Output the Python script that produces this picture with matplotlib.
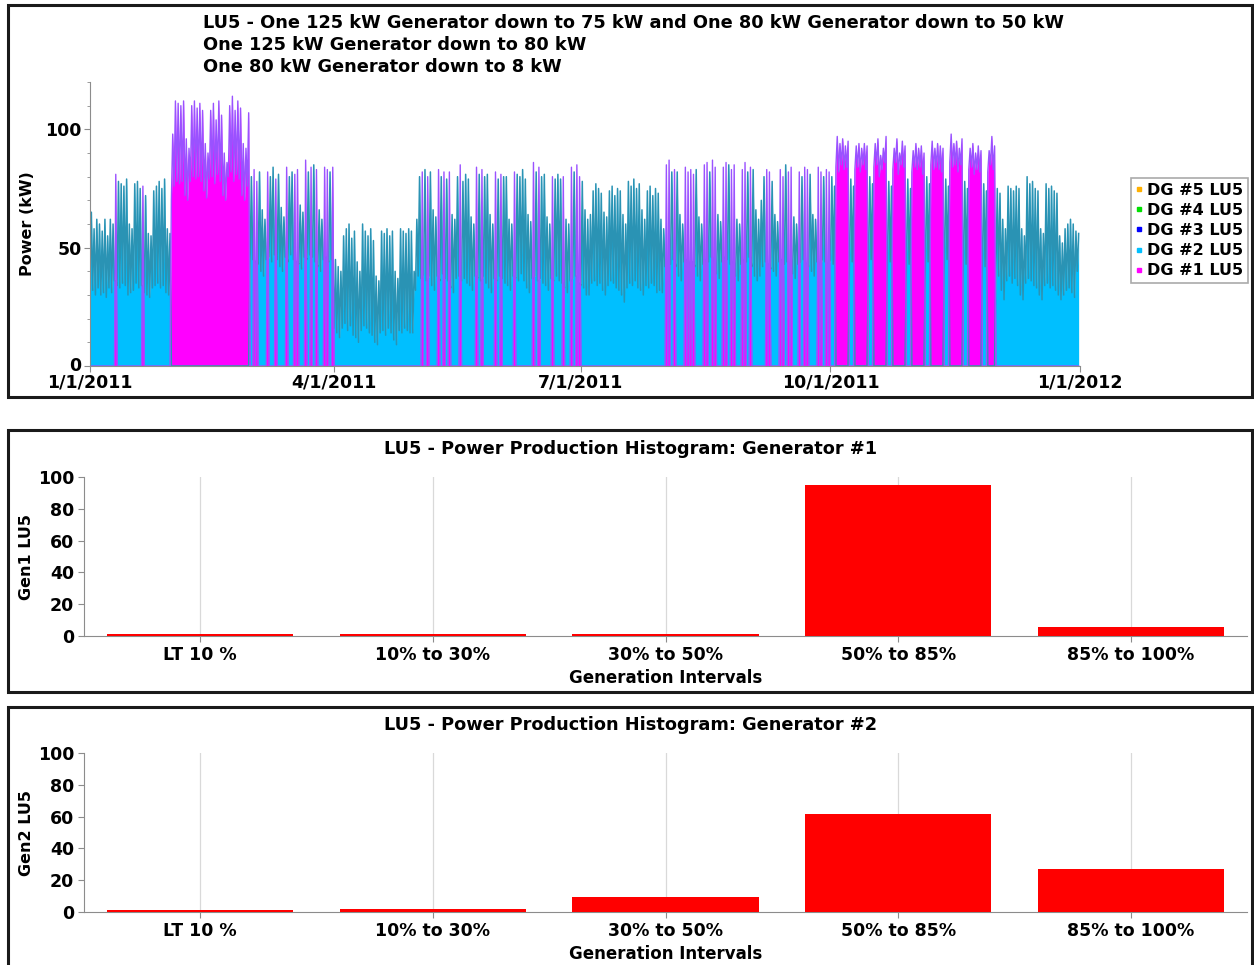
import numpy as np
import matplotlib
matplotlib.use("Agg")
import matplotlib.pyplot as plt
from matplotlib.lines import Line2D
from matplotlib.patches import Rectangle
from matplotlib.ticker import MultipleLocator
from matplotlib.transforms import ScaledTranslation

# ---------------------------------------------------------------- data
title_lines = [
    "LU5 - One 125 kW Generator down to 75 kW and One 80 kW Generator down to 50 kW",
    "One 125 kW Generator down to 80 kW",
    "One 80 kW Generator down to 8 kW",
]
date_tick_days = [0, 90, 181, 273, 365]
date_tick_labels = ["1/1/2011", "4/1/2011", "7/1/2011", "10/1/2011", "1/1/2012"]

# one row per week, Saturday .. Friday, starting 1/1/2011 (kW)
daily_peak_kw = [
    65, 58, 62, 60, 57, 62, 55,
    62, 60, 81, 78, 77, 76, 79,
    60, 58, 77, 78, 75, 76, 72,
    56, 55, 74, 76, 78, 75, 79,
    58, 56, 98, 112, 111, 110, 112,
    96, 92, 110, 112, 109, 111, 108,
    94, 90, 108, 111, 104, 112, 106,
    90, 86, 110, 114, 108, 112, 109,
    94, 92, 107, 80, 83, 78, 82,
    66, 62, 82, 80, 84, 79, 81,
    67, 63, 84, 80, 82, 81, 83,
    68, 65, 87, 82, 84, 85, 83,
    66, 62, 84, 83, 82, 84, 45,
    42, 40, 55, 58, 60, 54, 57,
    44, 40, 60, 57, 55, 58, 53,
    38, 36, 57, 56, 58, 55, 57,
    40, 37, 58, 57, 56, 58, 57,
    40, 62, 80, 82, 83, 80, 82,
    66, 63, 83, 80, 82, 79, 82,
    64, 62, 80, 85, 78, 81, 79,
    63, 60, 84, 81, 83, 80, 81,
    64, 60, 82, 79, 81, 80, 80,
    62, 60, 82, 81, 80, 83, 79,
    64, 61, 86, 82, 84, 80, 81,
    63, 60, 80, 79, 81, 79, 80,
    62, 60, 84, 82, 85, 80, 78,
    66, 62, 64, 74, 77, 75, 73,
    65, 63, 74, 76, 72, 75, 74,
    64, 60, 78, 76, 79, 75, 77,
    66, 62, 74, 76, 72, 75, 73,
    62, 58, 85, 87, 82, 83, 82,
    64, 60, 84, 82, 83, 81, 83,
    63, 60, 85, 86, 82, 87, 84,
    64, 61, 84, 86, 85, 83, 85,
    62, 60, 83, 86, 82, 84, 83,
    66, 62, 70, 80, 83, 82, 78,
    64, 61, 83, 80, 85, 82, 84,
    63, 60, 82, 80, 84, 83, 81,
    64, 62, 84, 82, 80, 83, 82,
    80, 76, 97, 94, 96, 93, 95,
    79, 76, 93, 94, 92, 94, 93,
    80, 77, 94, 96, 89, 92, 97,
    78, 76, 92, 96, 90, 95, 93,
    79, 75, 91, 94, 92, 93, 90,
    80, 77, 95, 92, 94, 93, 92,
    79, 76, 98, 94, 95, 92, 96,
    78, 75, 92, 94, 90, 93, 91,
    77, 74, 91, 97, 93, 75, 73,
    62, 58, 76, 75, 74, 76, 75,
    58, 55, 80, 77, 78, 75, 74,
    58, 56, 77, 75, 76, 74, 73,
    55, 52, 58, 60, 62, 60, 57,
    56,
]
daily_low_kw = [
    35, 32, 30, 33, 30, 31, 29,
    33, 31, 36, 34, 33, 35, 34,
    30, 31, 32, 35, 33, 34, 31,
    30, 29, 33, 34, 35, 33, 34,
    31, 30, 70, 76, 78, 77, 78,
    72, 70, 78, 80, 79, 80, 78,
    74, 71, 79, 80, 77, 81, 78,
    72, 70, 80, 82, 78, 81, 79,
    72, 70, 76, 42, 45, 44, 43,
    40, 38, 45, 46, 44, 47, 45,
    42, 40, 46, 44, 47, 45, 44,
    43, 41, 46, 45, 47, 46, 44,
    42, 40, 45, 46, 44, 45, 16,
    14, 12, 16, 18, 15, 17, 13,
    12, 10, 15, 17, 16, 14, 13,
    10, 9, 14, 15, 13, 16, 14,
    11, 9, 15, 14, 16, 15, 14,
    14, 32, 38, 37, 39, 36, 38,
    34, 32, 38, 36, 39, 37, 36,
    33, 31, 37, 38, 36, 37, 35,
    34, 32, 38, 37, 36, 38, 35,
    33, 31, 37, 36, 38, 37, 35,
    34, 32, 38, 37, 36, 39, 36,
    33, 31, 37, 38, 36, 37, 35,
    34, 32, 37, 36, 38, 36, 35,
    33, 31, 36, 37, 38, 35, 34,
    33, 30, 30, 35, 36, 34, 35,
    32, 30, 34, 36, 35, 33, 32,
    30, 27, 33, 35, 34, 36, 33,
    32, 30, 34, 33, 35, 34, 31,
    32, 31, 42, 44, 43, 45, 42,
    38, 36, 44, 45, 43, 44, 42,
    38, 36, 43, 45, 44, 46, 43,
    39, 37, 44, 46, 45, 43, 44,
    38, 36, 43, 45, 44, 46, 42,
    38, 36, 38, 42, 44, 43, 41,
    40, 38, 44, 45, 43, 44, 42,
    39, 37, 43, 44, 45, 43, 42,
    40, 38, 44, 43, 45, 44, 43,
    45, 43, 84, 82, 85, 83, 84,
    46, 44, 83, 84, 82, 85, 83,
    47, 45, 84, 85, 80, 83, 86,
    46, 44, 83, 86, 81, 85, 84,
    45, 43, 82, 84, 83, 84, 81,
    46, 44, 85, 83, 84, 83, 82,
    47, 45, 86, 84, 85, 82, 85,
    45, 43, 83, 84, 81, 83, 82,
    44, 42, 82, 85, 83, 40, 38,
    32, 28, 36, 38, 35, 37, 34,
    30, 28, 35, 37, 36, 34, 33,
    30, 28, 34, 35, 33, 34, 32,
    30, 28, 30, 32, 33, 31, 29,
    40,
]
# 2 = DG #2 all day, 1 = DG #1 all day, 3 = DG #1 carries the daily peak
daily_unit = [
    2, 2, 2, 2, 2, 2, 2,
    2, 2, 3, 2, 2, 2, 2,
    2, 2, 2, 2, 2, 3, 2,
    2, 2, 2, 2, 2, 2, 2,
    2, 2, 1, 1, 1, 1, 1,
    1, 1, 1, 1, 1, 1, 1,
    1, 1, 1, 1, 1, 1, 1,
    1, 1, 1, 1, 1, 1, 1,
    1, 1, 1, 2, 3, 3, 2,
    2, 2, 3, 2, 2, 3, 2,
    2, 2, 3, 2, 2, 3, 3,
    2, 2, 3, 2, 3, 2, 3,
    2, 2, 3, 3, 2, 3, 2,
    2, 2, 2, 2, 2, 2, 2,
    2, 2, 2, 2, 2, 2, 2,
    2, 2, 2, 2, 2, 2, 2,
    2, 2, 2, 2, 2, 2, 2,
    2, 2, 2, 3, 2, 3, 2,
    2, 2, 3, 2, 3, 2, 3,
    2, 2, 2, 3, 2, 2, 2,
    2, 2, 3, 2, 3, 2, 2,
    2, 2, 3, 2, 3, 2, 2,
    2, 2, 3, 2, 2, 2, 2,
    2, 2, 3, 2, 3, 2, 2,
    2, 2, 3, 2, 2, 2, 3,
    2, 2, 3, 2, 3, 3, 2,
    2, 2, 2, 2, 2, 2, 2,
    2, 2, 2, 2, 2, 2, 2,
    2, 2, 2, 2, 2, 2, 2,
    2, 2, 2, 2, 2, 2, 2,
    2, 2, 3, 3, 2, 3, 2,
    2, 2, 3, 3, 3, 3, 2,
    2, 2, 3, 3, 2, 3, 3,
    2, 2, 3, 3, 2, 3, 3,
    2, 2, 3, 3, 2, 3, 2,
    2, 2, 2, 2, 3, 3, 2,
    2, 2, 3, 3, 2, 3, 3,
    2, 2, 3, 2, 3, 3, 2,
    2, 2, 3, 3, 2, 3, 3,
    2, 2, 1, 1, 1, 1, 1,
    2, 2, 1, 1, 1, 1, 1,
    2, 2, 1, 1, 1, 1, 1,
    2, 2, 1, 1, 1, 1, 1,
    2, 2, 1, 1, 1, 1, 1,
    2, 2, 1, 1, 1, 1, 1,
    2, 2, 1, 1, 1, 1, 1,
    2, 2, 1, 1, 1, 1, 1,
    2, 2, 1, 1, 1, 2, 2,
    2, 2, 2, 2, 2, 2, 2,
    2, 2, 2, 2, 2, 2, 2,
    2, 2, 2, 2, 2, 2, 2,
    2, 2, 2, 2, 2, 2, 2,
    2,
]
legend_labels = ["DG #5 LU5", "DG #4 LU5", "DG #3 LU5", "DG #2 LU5", "DG #1 LU5"]
legend_colors = ["#FFB000", "#00E000", "#0000FF", "#00BFFF", "#FF00FF"]

intervals = ["LT 10 %", "10% to 30%", "30% to 50%", "50% to 85%", "85% to 100%"]
gen1_pct = [1.0, 1.0, 1.0, 95.0, 5.5]
gen2_pct = [1.0, 1.8, 9.4, 61.6, 27.0]
hist_titles = ["LU5 - Power Production Histogram: Generator #1",
               "LU5 - Power Production Histogram: Generator #2"]
hist_ylabels = ["Gen1 LU5", "Gen2 LU5"]

# ---------------------------------------------------------------- figure
W, H = 1254, 965
plt.rcParams["font.family"] = ["DejaVu Sans"]
plt.rcParams["font.weight"] = "bold"
fig = plt.figure(figsize=(W / 100, H / 100), dpi=100)
fig.patch.set_facecolor("white")


def px_axes(l, t, r, b):
    return fig.add_axes([l / W, 1 - b / H, (r - l) / W, (b - t) / H])


def border(l, t, r, b):
    fig.add_artist(Rectangle((l / W, 1 - b / H), (r - l) / W, (b - t) / H,
                             transform=fig.transFigure, fill=False,
                             ec="#1a1a1a", lw=2.2))


border(8, 5, 1252, 397)
border(8, 430, 1252, 692)
border(8, 707, 1252, 990)

AX_GRAY = "#8c8c8c"
TICK_FS = 12.5

# ---------------------------------------------------------------- time series
peak = np.asarray(daily_peak_kw, float)
low = np.asarray(daily_low_kw, float)
unit = np.asarray(daily_unit)
n = len(peak)
t = (np.arange(n)[:, None] + np.array([0.0, 0.5])).ravel()
dg1 = np.zeros((n, 2))
dg2 = np.zeros((n, 2))
m = unit == 2
dg2[m, 0], dg2[m, 1] = low[m], peak[m]
m = unit == 1
dg1[m, 0], dg1[m, 1] = low[m], peak[m]
m = unit == 3
dg2[m, 0], dg2[m, 1], dg1[m, 1] = low[m], low[m], peak[m]
dg1, dg2 = dg1.ravel(), dg2.ravel()

ax = px_axes(90, 82, 1080, 366)
ax.fill_between(t, 0, dg2, color="#00BFFF", lw=0)
ax.plot(t, dg2, color="#2A93B4", lw=1.1)
ax.fill_between(t, 0, dg1, color="#FF00FF", lw=0)
ax.plot(t, dg1, color="#9A52FF", lw=1.0)
ax.set_xlim(0, 365)
ax.set_ylim(0, 120)
ax.set_xticks(date_tick_days)
ax.set_xticklabels(date_tick_labels)
ax.set_yticks([0, 50, 100])
ax.yaxis.set_minor_locator(MultipleLocator(10))
for s in ("top", "right"):
    ax.spines[s].set_visible(False)
for s in ("left", "bottom"):
    ax.spines[s].set_color(AX_GRAY)
ax.tick_params(axis="both", which="major", colors=AX_GRAY, labelcolor="black",
               labelsize=TICK_FS, length=4, pad=2)
ax.tick_params(axis="x", which="major", pad=1.5)
ax.tick_params(axis="y", which="minor", colors=AX_GRAY, length=2)
ax.set_ylabel("Power (kW)", fontsize=11.5, fontweight="bold")
ax.yaxis.set_label_coords((35 - 90) / 990, 0.5)
# lift the "0" label slightly so it clears the first date label
zero_lbl = ax.get_yticklabels()[0]
zero_lbl.set_transform(zero_lbl.get_transform()
                       + ScaledTranslation(0, 2.5 / 100, fig.dpi_scale_trans))

for i, line in enumerate(title_lines):
    fig.text(203 / W, 1 - (23 + 22 * i) / H, line, fontsize=12.8,
             fontweight="bold", ha="left", va="center")

handles = [Line2D([], [], ls="none", marker="s", markersize=3.5,
                  markerfacecolor=c, markeredgecolor=c) for c in legend_colors]
leg = fig.legend(handles, legend_labels, loc="upper left",
                 bbox_to_anchor=(1131 / W, 1 - 178 / H),
                 bbox_transform=fig.transFigure, borderaxespad=0,
                 fancybox=False, framealpha=1, edgecolor="#aaaaaa",
                 handlelength=0.4, handletextpad=0.3, labelspacing=0.32,
                 borderpad=0.3, prop={"size": 11.5, "weight": "bold"})
leg.get_frame().set_linewidth(1.2)

# ---------------------------------------------------------------- histograms
for (top, bot, ttl_y), vals, ttl, ylab in zip(
        [(477, 636, 449), (753, 912, 725)], [gen1_pct, gen2_pct],
        hist_titles, hist_ylabels):
    hx = px_axes(84, top, 1247, bot)
    xs = np.arange(len(intervals))
    hx.bar(xs, vals, width=0.8, color="#FF0000", zorder=3)
    hx.set_xlim(-0.5, len(intervals) - 0.5)
    hx.set_ylim(0, 100)
    hx.set_xticks(xs)
    hx.set_xticklabels(intervals)
    hx.set_yticks(range(0, 101, 20))
    hx.xaxis.grid(True, color="#d9d9d9", lw=0.9, zorder=0)
    hx.set_axisbelow(True)
    for s in ("top", "right"):
        hx.spines[s].set_visible(False)
    for s in ("left", "bottom"):
        hx.spines[s].set_color(AX_GRAY)
        hx.spines[s].set_zorder(2)
    hx.tick_params(axis="both", colors=AX_GRAY, labelcolor="black",
                   labelsize=TICK_FS, length=4, pad=3)
    hx.set_ylabel(ylab, fontsize=11.5, fontweight="bold")
    hx.yaxis.set_label_coords((34 - 84) / 1163, 0.5)
    hx.set_xlabel("Generation Intervals", fontsize=12, fontweight="bold")
    hx.xaxis.set_label_coords(0.5, (636 - 669) / 159)
    fig.text(631 / W, 1 - ttl_y / H, ttl, fontsize=12.8, fontweight="bold",
             ha="center", va="center")

fig.savefig("out.png", dpi=100)
